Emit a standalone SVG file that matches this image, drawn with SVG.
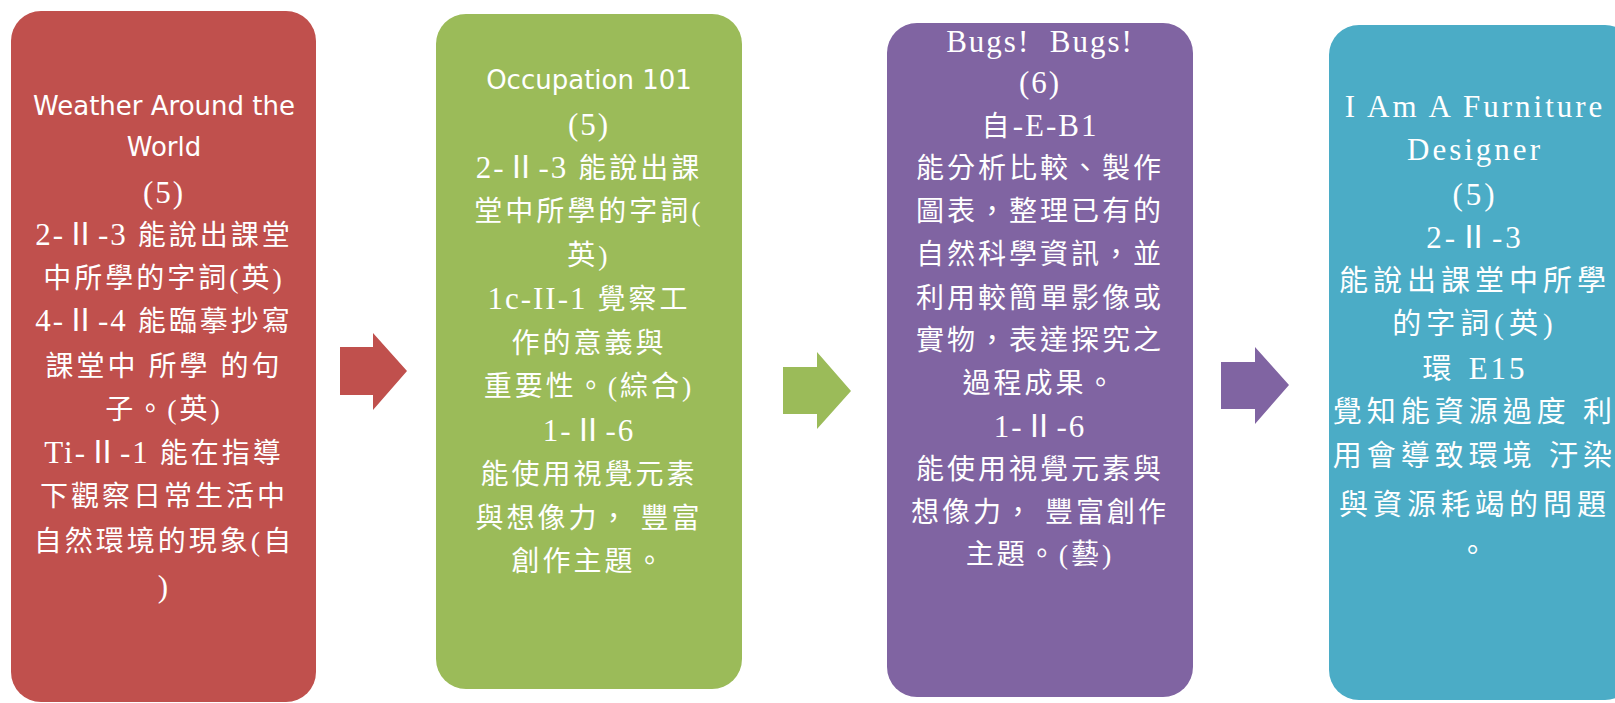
<svg xmlns="http://www.w3.org/2000/svg" width="1615" height="703" viewBox="0 0 1615 703">
<style>
.box{stroke:none}
.red{fill:#C0504D}
.green{fill:#9BBB59}
.purple{fill:#8064A2}
.teal{fill:#4BACC6}
text{fill:#FFFFFF;text-anchor:middle}
.t{font-family:"Liberation Serif","Noto Sans CJK TC",serif;font-size:28px;letter-spacing:3px}
.s{font-family:"DejaVu Sans",sans-serif;font-size:26px}
.tl{font-family:"Liberation Serif","Noto Sans CJK TC",serif;font-size:29px;letter-spacing:5px}
.l{font-size:31px;letter-spacing:2px}
</style>
<rect width="1615" height="703" fill="#FFFFFF"/>
<g id="node-weather">
<rect class="box red" x="11" y="11" width="305" height="691" rx="30"/>
<text class="s" x="164" y="115">Weather Around the</text>
<text class="s" x="164" y="156">World</text>
<text class="t" x="164" y="203"><tspan class="l">(5)</tspan></text>
<text class="t" x="164" y="245"><tspan class="l">2-Ⅱ-3</tspan> 能說出課堂</text>
<text class="t" x="164" y="288">中所學的字詞(英)</text>
<text class="t" x="164" y="331"><tspan class="l">4-Ⅱ-4</tspan> 能臨摹抄寫</text>
<text class="t" x="164" y="376">課堂中 所學 的句</text>
<text class="t" x="164" y="419">子。(英)</text>
<text class="t" x="164" y="463"><tspan class="l">Ti-Ⅱ-1</tspan> 能在指導</text>
<text class="t" x="164" y="506">下觀察日常生活中</text>
<text class="t" x="164" y="551">自然環境的現象(自</text>
<text class="t" x="164" y="597"><tspan class="l">)</tspan></text>
</g>
<g id="node-occupation">
<rect class="box green" x="436" y="14" width="306" height="675" rx="30"/>
<text class="s" x="589" y="89">Occupation 101</text>
<text class="t" x="589" y="135"><tspan class="l">(5)</tspan></text>
<text class="t" x="589" y="178"><tspan class="l">2-Ⅱ-3</tspan> 能說出課</text>
<text class="t" x="589" y="221">堂中所學的字詞(</text>
<text class="t" x="589" y="265">英)</text>
<text class="t" x="589" y="309"><tspan class="l">1c-II-1</tspan> 覺察工</text>
<text class="t" x="589" y="353">作的意義與</text>
<text class="t" x="589" y="396">重要性。(綜合)</text>
<text class="t" x="589" y="441"><tspan class="l">1-Ⅱ-6</tspan></text>
<text class="t" x="589" y="484">能使用視覺元素</text>
<text class="t" x="589" y="528">與想像力， 豐富</text>
<text class="t" x="589" y="571">創作主題。</text>
</g>
<g id="node-bugs">
<rect class="box purple" x="887" y="23" width="306" height="674" rx="30"/>
<text class="t" x="1040" y="52"><tspan class="l">Bugs!&#160;&#160;Bugs!</tspan></text>
<text class="t" x="1040" y="93"><tspan class="l">(6)</tspan></text>
<text class="t" x="1040" y="136">自<tspan class="l">-E-B1</tspan></text>
<text class="t" x="1040" y="178">能分析比較、製作</text>
<text class="t" x="1040" y="221">圖表，整理已有的</text>
<text class="t" x="1040" y="264">自然科學資訊，並</text>
<text class="t" x="1040" y="308">利用較簡單影像或</text>
<text class="t" x="1040" y="350">實物，表達探究之</text>
<text class="t" x="1040" y="393">過程成果。</text>
<text class="t" x="1040" y="437"><tspan class="l">1-Ⅱ-6</tspan></text>
<text class="t" x="1040" y="479">能使用視覺元素與</text>
<text class="t" x="1040" y="522">想像力， 豐富創作</text>
<text class="t" x="1040" y="564">主題。(藝)</text>
</g>
<g id="node-furniture">
<rect class="box teal" x="1329" y="25" width="306" height="675" rx="30"/>
<text class="tl" x="1475" y="117" style="font-size:31px;letter-spacing:3px">I Am A Furniture</text>
<text class="tl" x="1475" y="160" style="font-size:31px;letter-spacing:3px">Designer</text>
<text class="tl" x="1475" y="205" style="font-size:31px;letter-spacing:3px">(5)</text>
<text class="tl" x="1475" y="248" style="font-size:31px;letter-spacing:3px">2-Ⅱ-3</text>
<text class="tl" x="1475" y="291">能說出課堂中所學</text>
<text class="tl" x="1475" y="334">的字詞(英)</text>
<text class="tl" x="1475" y="379">環 <tspan style="font-size:31px;letter-spacing:3px">E15</tspan></text>
<text class="tl" x="1475" y="422">覺知能資源過度 利</text>
<text class="tl" x="1475" y="466">用會導致環境 汙染</text>
<text class="tl" x="1475" y="515">與資源耗竭的問題</text>
<text class="tl" x="1475" y="561">。</text>
</g>
<g id="connectors">
<polygon class="red" points="340,347 373,347 373,333 407,371 373,410 373,395 340,395"/>
<polygon class="green" points="783,367 817,367 817,352 851,391 817,429 817,414 783,414"/>
<polygon class="purple" points="1221,362 1255,362 1255,347 1289,385 1255,424 1255,409 1221,409"/>
</g>
</svg>
